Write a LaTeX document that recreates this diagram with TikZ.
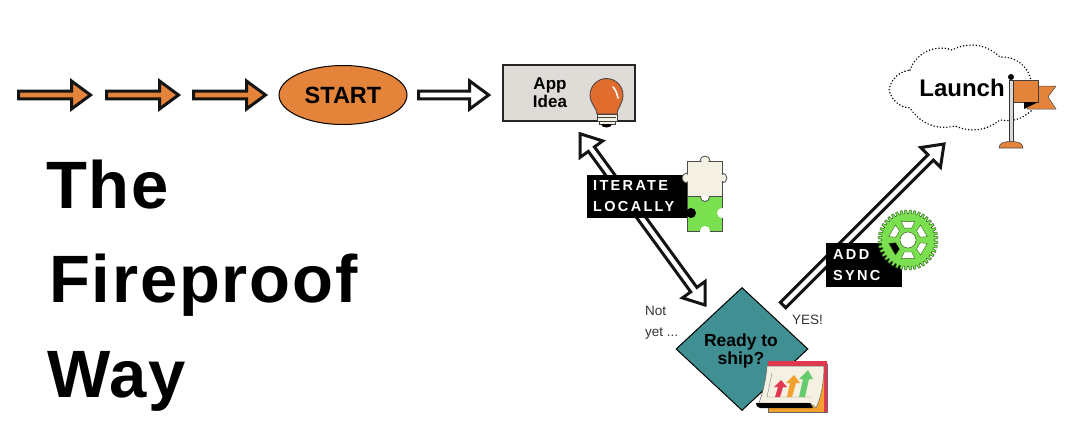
\documentclass[tikz,border=0pt]{standalone}
\usepackage{fontspec}
\setmainfont{Liberation Sans}
\usetikzlibrary{calc,shapes.geometric}
\definecolor{flameorange}{HTML}{E4843A}
\definecolor{bulborange}{HTML}{E06C2E}
\definecolor{ideagray}{HTML}{DFDCD8}
\definecolor{shipteal}{HTML}{3F8F93}
\definecolor{limegreen}{HTML}{7AE04F}
\definecolor{papercream}{HTML}{F4F0E2}
\definecolor{chartred}{HTML}{E0384F}
\definecolor{chartamber}{HTML}{F4A02C}
\definecolor{chartgreen}{HTML}{66CC6E}
\tikzset{
  arrowline/.style={draw=black!92, line width=3pt, miter limit=8},
  tagbox/.style={fill=black, text=white, font=\fontsize{14.5}{21}\selectfont\bfseries\addfontfeatures{LetterSpace=16}, align=left, inner sep=0pt, anchor=north west},
  notelabel/.style={font=\fontsize{13.5}{21}\selectfont, text=black!80, align=left, inner sep=0pt},
  stepname/.style={font=\fontsize{17}{18}\selectfont\bfseries, align=center, inner sep=0pt},
  titleline/.style={font=\fontsize{67}{67}\selectfont\bfseries\addfontfeatures{LetterSpace=2.7}, anchor=base west, inner sep=0pt},
  cloudline/.style={black, line width=1.6pt, dash pattern=on 0pt off 3.2pt, line cap=round}
}
% tail, tip: one-headed block arrow
\newcommand{\blockarrow}[3][white]{
  \draw[arrowline, fill=#1]
    ($(#2)!3.8pt!90:(#3)$) --
    ($(#3)!19pt!(#2)!3.8pt!-90:(#2)$) --
    ($(#3)!19pt!(#2)!14pt!-90:(#2)$) --
    (#3) --
    ($(#3)!19pt!(#2)!14pt!90:(#2)$) --
    ($(#3)!19pt!(#2)!3.8pt!90:(#2)$) --
    ($(#2)!3.8pt!-90:(#3)$) -- cycle;
}
% same, with a head at both ends
\newcommand{\twoheadarrow}[2]{
  \draw[arrowline, fill=white]
    (#1) --
    ($(#1)!19pt!(#2)!14pt!90:(#2)$) --
    ($(#1)!19pt!(#2)!3.8pt!90:(#2)$) --
    ($(#2)!19pt!(#1)!3.8pt!-90:(#1)$) --
    ($(#2)!19pt!(#1)!14pt!-90:(#1)$) --
    (#2) --
    ($(#2)!19pt!(#1)!14pt!90:(#1)$) --
    ($(#2)!19pt!(#1)!3.8pt!90:(#1)$) --
    ($(#1)!19pt!(#2)!3.8pt!-90:(#2)$) --
    ($(#1)!19pt!(#2)!14pt!-90:(#2)$) -- cycle;
}
\begin{document}
\begin{tikzpicture}[x=1pt, y=-1pt]
  \useasboundingbox (0,0) rectangle (1080,440);
  \node[draw=black, line width=1pt, fill=flameorange, ellipse, minimum width=128pt, minimum height=59pt, inner sep=0pt, font=\fontsize{23.5}{24}\selectfont\bfseries] (start) at (343,95) {START};
  \node[draw=black!85, line width=1.6pt, fill=ideagray, minimum width=132pt, minimum height=56pt, inner sep=0pt] (idea) at (569,93) {};
  \node[stepname] (ideaname) at (550,93) {App\\Idea};
  \node[draw=black, line width=1pt, fill=shipteal, diamond, shape aspect=1.07, minimum width=132pt, minimum height=123pt, inner sep=0pt] (ship) at (742,349) {};
  \node[stepname, font=\fontsize{17.5}{17.5}\selectfont\bfseries] (shipname) at (741,351) {Ready to\\ship?};

  \coordinate (feedA) at (18.5,95);
  \coordinate (feedB) at (90.5,95);
  \coordinate (feedC) at (106.5,95);
  \coordinate (feedD) at (178.5,95);
  \coordinate (feedE) at (193.5,95);
  \coordinate (feedF) at (265.5,95);
  \blockarrow[flameorange]{feedA}{feedB}
  \blockarrow[flameorange]{feedC}{feedD}
  \blockarrow[flameorange]{feedE}{feedF}
  \coordinate (startout) at ($(start.east)+(11,0)$);
  \coordinate (ideain) at ($(idea.west)+(-13.5,2)$);
  \blockarrow{startout}{ideain}
  \coordinate (iterup) at ($(idea.south west)+(78,12)$);
  \coordinate (iterdown) at ($(ship.north)+(-37,18)$);
  \twoheadarrow{iterup}{iterdown}
  \coordinate (yesout) at (783,305);
  \coordinate (yesin) at (944,144);
  \blockarrow{yesout}{yesin}

  \node[tagbox, minimum width=100pt, minimum height=43pt] (iteratetag) at (587,175) {};
  \node[tagbox, anchor=west] (iteratename) at (593,196.5) {ITERATE\\LOCALLY};

  % puzzle
  \draw[black!70, line width=0.8pt, fill=limegreen] (687,196) rectangle (722,231);
  \fill[white] (722,213) circle (5pt) (705,231) circle (5pt);
  \fill[black] (691,213) circle (5pt);
  \draw[black!70, line width=0.8pt, fill=papercream] (705,161) circle (5pt) (687,178) circle (5pt) (722,178) circle (5pt);
  \draw[black!70, line width=0.8pt, fill=papercream] (687,161) rectangle (722,196);
  \fill[papercream] (705,163) circle (4pt) (689,178) circle (4pt) (720,178) circle (4pt);
  \draw[black!70, line width=0.8pt, fill=white] (705,197) circle (4.5pt);
  \fill[papercream] (699,191) rectangle (711,195.5);

  % gear
  \node[tagbox, minimum width=76pt, minimum height=44pt] (synctag) at (826,243) {};
  \node[tagbox, anchor=west] (syncname) at (833,265) {ADD\\SYNC};
  \begin{scope}[shift={(908,240)}]
    \draw[limegreen!45!black, line width=0.5pt, fill=limegreen]
      (0:26.5) \foreach \a in {0,9,...,351} { -- (\a+1.5:26.5) -- (\a+2.5:30) -- (\a+6.5:30) -- (\a+7.5:26.5) -- (\a+9:26.5) } -- cycle;
    \draw[limegreen!45!black, line width=0.5pt, fill=white] (0,0) circle (8pt);
    \foreach \a/\c in {-90/white,-30/white,30/white,90/white,150/black,210/white}
      \draw[limegreen!45!black, line width=0.4pt, fill=\c] (\a-17:12.5) -- (\a+17:12.5) -- (\a+20:19.5) -- (\a-20:19.5) -- cycle;
  \end{scope}

  % bulb
  \draw[black!75, line width=0.8pt, fill=bulborange] (597,114) .. controls (597,108) and (590,104) .. (590,95) .. controls (590,86) and (597.5,78.5) .. (606.5,78.5) .. controls (615.5,78.5) and (623,86) .. (623,95) .. controls (623,104) and (617,108) .. (617,114) -- cycle;
  \draw[white, line width=1.6pt, line cap=round] (613,87) .. controls (616,90) and (617,94) .. (618,98);
  \draw[black!75, line width=0.6pt, fill=papercream] (597,114) rectangle (617,121);
  \draw[black!75, line width=0.6pt] (598,117.5) -- (616,117.5);
  \draw[black!75, line width=0.6pt, fill=papercream] (599,121) rectangle (615,124);
  \fill[black] (601,124) arc (180:360:5.5pt and 3.5pt) -- cycle;

  % chart
  \draw[black!60, line width=0.4pt, fill=chartamber] (768,364) rectangle (827,412);
  \fill[chartred] (768,361) rectangle (827,366) (824,361) rectangle (827,412);
  \draw[black!60, line width=0.5pt, fill=papercream] (767,366) -- (824,366) .. controls (824,385) and (820,400) .. (816,408) -- (810,403) -- (759,403) .. controls (763,392) and (766,380) .. (767,366) -- cycle;
  \fill[black] (756,403) -- (810,403) -- (813,408) -- (760,408) .. controls (757,408) and (756,405) .. (756,403) -- cycle;
  \draw[black!50, line width=0.4pt] (772,373) -- (767,397) -- (811,397);
  \fill[chartred] (775,397) -- (778,387) -- (774,387) -- (781,380) -- (787,387) -- (783,387) -- (780,397) -- cycle;
  \fill[chartamber] (787,397) -- (790,383) -- (786,383) -- (794,375) -- (800,383) -- (796,383) -- (792,397) -- cycle;
  \fill[chartgreen] (799,397) -- (803,379) -- (799,379) -- (808,370) -- (813,379) -- (809,379) -- (805,397) -- cycle;

  \node[notelabel, anchor=north west] (notyet) at (645,306) {Not\\yet ...};
  \node[notelabel, anchor=west] (yes) at (792,320) {YES!};

  % cloud
  \draw[cloudline] (910,70) to[bend left=45] (952,50) to[bend left=35] (1000,57) to[bend left=40] (1031,80);
  \draw[cloudline] (1031,111) to[bend left=25] (1000,120) to[bend left=30] (955,126) to[bend left=35] (910,108) to[bend left=35] (889,90) to[bend left=35] (910,70);
  \node[font=\fontsize{24}{26}\selectfont\bfseries, inner sep=0pt] (launch) at (962,88) {Launch};

  % flag
  \draw[fill=flameorange, draw=black!70, line width=0.5pt] (1027,86) -- (1056,86) -- (1048,97) -- (1056,109) -- (1027,109) -- cycle;
  \draw[black!75, line width=0.7pt, fill=flameorange] (1013,80) rectangle (1038,102);
  \fill[black] (1024,109) -- (1024,102) -- (1038,102) -- cycle;
  \draw[black!80, line width=0.7pt, fill=white!85!black] (1009,80) rectangle (1013,143);
  \fill[black] (1011,77) circle (3pt);
  \draw[black!70, line width=0.6pt, fill=flameorange] (999,148) .. controls (999,143) and (1004,141.5) .. (1011,141.5) .. controls (1018,141.5) and (1023,143) .. (1023,148) -- cycle;

  \node[titleline] (titleA) at (46,208) {The};
  \node[titleline] (titleB) at (49,302) {Fireproof};
  \node[titleline] (titleC) at (47,397) {Way};
\end{tikzpicture}
\end{document}
